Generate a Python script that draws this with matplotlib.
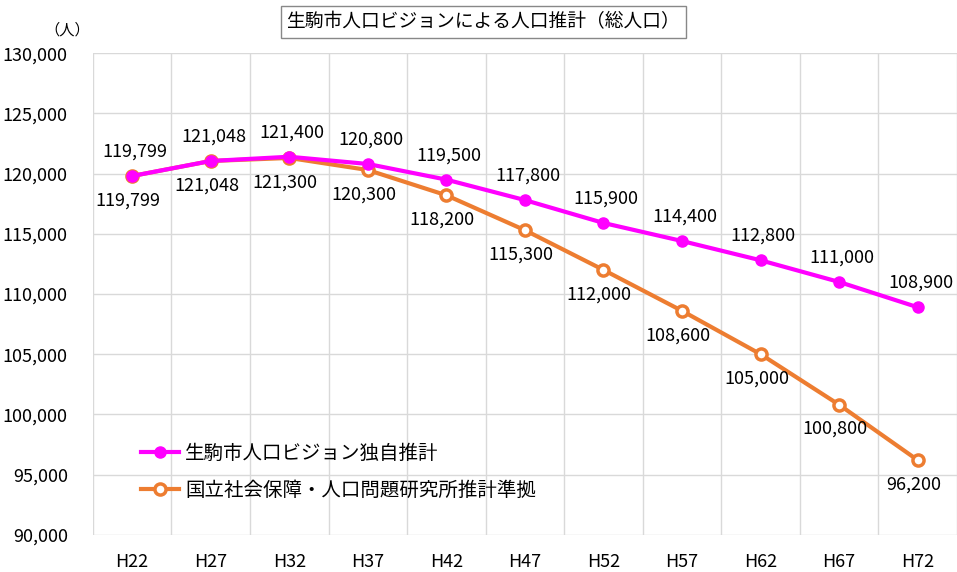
import numpy as np
import matplotlib.pyplot as plt
from matplotlib.ticker import FuncFormatter, FixedLocator

plt.rcParams['font.family'] = ['Noto Sans CJK JP', 'DejaVu Sans']

# data
years = ['H22', 'H27', 'H32', 'H37', 'H42', 'H47', 'H52', 'H57', 'H62', 'H67', 'H72']
ikoma = [119799, 121048, 121400, 120800, 119500, 117800, 115900, 114400, 112800, 111000, 108900]
ipss = [119799, 121048, 121300, 120300, 118200, 115300, 112000, 108600, 105000, 100800, 96200]
label_ikoma = '生駒市人口ビジョン独自推計'
label_ipss = '国立社会保障・人口問題研究所推計準拠'
title = '生駒市人口ビジョンによる人口推計（総人口）'

fig = plt.figure(figsize=(9.57, 5.72), dpi=100)
ax = fig.add_axes([0.097, 0.065, 0.903, 0.842])

x = np.arange(len(years))
ax.plot(x, ikoma, color='#FF00FF', lw=3, marker='o', ms=8,
        mfc='#FF00FF', mec='#FF00FF', label=label_ikoma, zorder=4)
ax.plot(x, ipss, color='#ED7D31', lw=3, marker='o', ms=8,
        mfc='white', mec='#ED7D31', mew=2.5, label=label_ipss, zorder=3)

# data labels: pink above, orange below
for i in range(len(years)):
    ax.annotate(f'{ikoma[i]:,}', (x[i], ikoma[i]), xytext=(2, 11),
                textcoords='offset points', ha='center', va='bottom', fontsize=13)
    ax.annotate(f'{ipss[i]:,}', (x[i], ipss[i]), xytext=(-3, -11),
                textcoords='offset points', ha='center', va='top', fontsize=13)

ax.set_xlim(-0.5, len(years) - 0.5)
ax.set_ylim(90000, 130000)
ax.set_yticks(np.arange(90000, 130001, 5000))
ax.yaxis.set_major_formatter(FuncFormatter(lambda v, p: f'{int(v):,}'))
ax.set_xticks(x)
ax.set_xticklabels(years)
ax.xaxis.set_minor_locator(FixedLocator(np.arange(-0.5, len(years), 1)))

ax.grid(axis='y', which='major', color='#d9d9d9', lw=1)
ax.grid(axis='x', which='minor', color='#d9d9d9', lw=1)
ax.tick_params(axis='both', which='both', length=0, labelsize=13)
ax.tick_params(axis='x', pad=13)
ax.tick_params(axis='y', pad=18)
for s in ax.spines.values():
    s.set_visible(False)

ax.legend(loc='lower left', bbox_to_anchor=(0.035, 0.035), frameon=False,
          fontsize=14, handlelength=2.0, handletextpad=0.3, labelspacing=0.8)

fig.text(0.505, 0.962, title, ha='center', va='center', fontsize=13.5,
         bbox=dict(boxstyle='square,pad=0.3', fc='white', ec='#888888', lw=1))
fig.text(0.07, 0.947, '（人）', ha='center', va='center', fontsize=11)

fig.savefig('out.png', dpi=100)
